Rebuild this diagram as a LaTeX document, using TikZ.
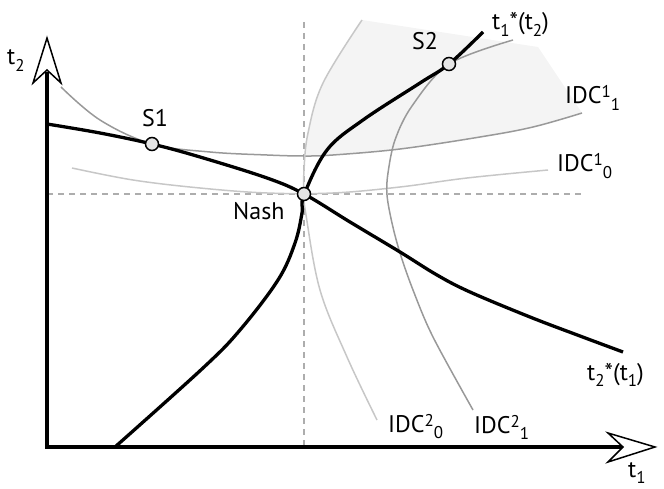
\documentclass[tikz,border=0pt]{standalone}
\usepackage{fontspec}
\setmainfont{PT Sans}
\newcommand\lsub[1]{\raisebox{-6.5pt}{\fontsize{17}{17}\selectfont#1}}
\newcommand\lsup[1]{\raisebox{6pt}{\fontsize{17}{17}\selectfont#1}}
\definecolor{idcdark}{gray}{0.6}
\definecolor{idclight}{gray}{0.78}
\definecolor{dashcol}{gray}{0.68}
\definecolor{shadecol}{gray}{0.955}
\definecolor{ptfill}{gray}{0.9}
\begin{document}
\begin{tikzpicture}[x=1pt,y=-1pt,
  blackcurve/.style={line width=3.3pt,black,line cap=butt,line join=round},
  idcone/.style={line width=1.5pt,draw=idcdark},
  idczero/.style={line width=1.5pt,draw=idclight},
  guide/.style={line width=1.3pt,draw=dashcol,dash pattern=on 6pt off 5pt},
  axisline/.style={line width=4pt,black,line join=miter},
  arrowhd/.style={fill=white,draw=black,line width=1.5pt,line join=miter},
  eqpt/.style={circle,draw=black,fill=ptfill,line width=1.5pt,minimum size=13pt,inner sep=0pt},
  lbl/.style={inner sep=0pt,anchor=base west,font=\fontsize{24}{28}\selectfont}]
\useasboundingbox (0,0) rectangle (664,489);
% shaded region
\fill[shadecol] (362,20) -- (538,47) -- (582,113)
  plot[smooth,tension=0.6] coordinates {(582,113) (533,127) (480,137) (400,149) (333,155) (306,156)}
  -- plot[smooth,tension=0.6] coordinates {(306,156) (308,133) (323,83) (362,20)} -- cycle;
% guides
\coordinate (vtop) at (304,22);
\coordinate (vbot) at (304,447);
\coordinate (hleft) at (47,194);
\coordinate (hright) at (582,194);
\draw[guide] (vtop) -- (vbot);
\draw[guide] (hleft) -- (hright);
% indifference curves
\draw[idcone] plot[smooth,tension=0.6] coordinates {(61,87) (100,120) (152,144) (210,152) (267,155) (304,156) (333,155) (400,149) (480,137) (533,127) (582,113)};
\draw[idczero] plot[smooth,tension=0.6] coordinates {(72,168) (133,180) (200,188) (267,193) (333,193) (400,187) (467,178) (548,170)};
\draw[idczero] plot[smooth,tension=0.6] coordinates {(362,20) (323,83) (308,133) (304,170) (304,195) (306,215) (320,290) (347,357) (377,420)};
\draw[idcone] plot[smooth,tension=0.55] coordinates {(513,40) (449,64) (412,106) (395,140) (388,173) (387,195) (392,223) (400,253) (413,290) (433,337) (473,410)};
% reaction curves
\draw[blackcurve] plot[smooth,tension=0.6] coordinates {(47,124) (100,133) (152,144) (200,157) (267,178) (304,194) (350,222) (400,252) (437,275) (470,292) (530,317) (580,336) (623,352)};
\draw[blackcurve] plot[smooth,tension=0.6] coordinates {(115,447) (203,368) (240,330) (278,280) (295,243) (302,213) (304,195) (327,150) (363,120) (420,83) (449,64) (483,32)};
% axes
\coordinate (ytop) at (47,72);
\coordinate (origin) at (47,447);
\coordinate (xend) at (625,447);
\draw[axisline] (ytop) -- (origin) -- (xend);
\draw[arrowhd] (47,38) -- (61,83) -- (47,70) -- (33,83) -- cycle;
\draw[arrowhd] (655,447) -- (608,433) -- (623,447) -- (608,462) -- cycle;
% points
\node[eqpt] (s1) at (152,144) {};
\node[eqpt] (nash) at (304,194) {};
\node[eqpt] (s2) at (449,64) {};
% labels
\node[lbl] (lt2) at (7,65) {t\lsub{2}};
\node[lbl] (lt1) at (628,477) {t\lsub{1}};
\node[lbl] (ls1) at (142,127) {S1};
\node[lbl] (lnash) at (233,220) {Nash};
\node[lbl] (ls2) at (412,50) {S2};
\node[lbl] (lr1) at (492,30) {t\lsub{1}*(t\lsub{2})};
\node[lbl] (lr2) at (587,380) {t\lsub{2}*(t\lsub{1})};
\node[lbl] (li11) at (565,104) {IDC\lsup{1}\lsub{1}};
\node[lbl] (li10) at (557,172) {IDC\lsup{1}\lsub{0}};
\node[lbl] (li20) at (388,432) {IDC\lsup{2}\lsub{0}};
\node[lbl] (li21) at (474,433) {IDC\lsup{2}\lsub{1}};
\end{tikzpicture}
\end{document}
